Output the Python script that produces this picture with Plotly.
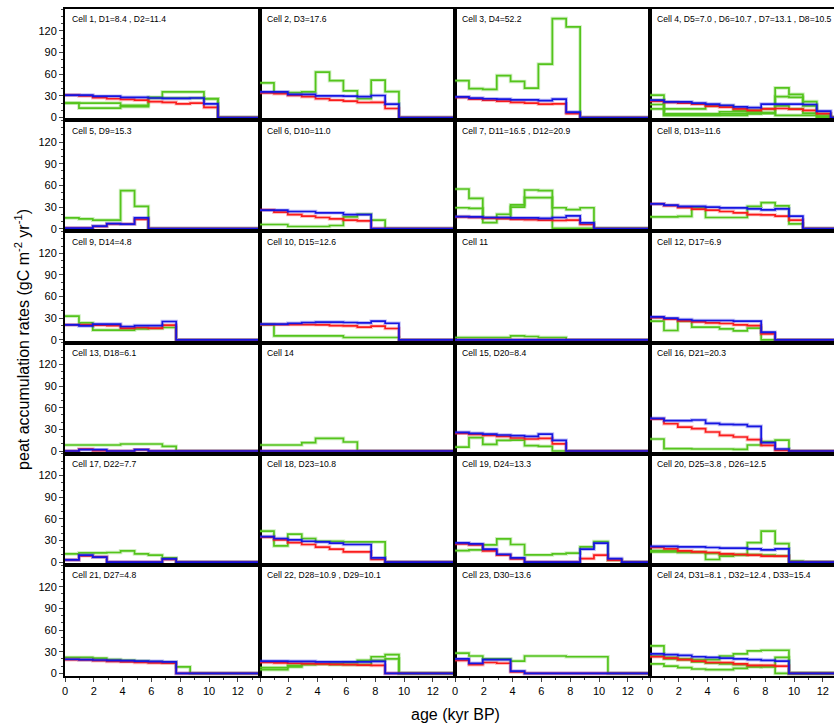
import plotly.graph_objects as go

# ---------------- data ----------------
# step edges of the age bins (kyr BP)
age_edges = [0.0, 0.97, 1.93, 2.9, 3.86, 4.83, 5.79, 6.76, 7.72, 8.69,
             9.65, 10.62, 11.58, 12.55, 13.51, 14.48]
x_ticks = [0, 2, 4, 6, 8, 10, 12]
y_ticks = [0, 30, 60, 90, 120]

cell_titles = [
    "Cell 1, D1=8.4 , D2=11.4", "Cell 2, D3=17.6", "Cell 3, D4=52.2",
    "Cell 4, D5=7.0 , D6=10.7 , D7=13.1 , D8=10.5",
    "Cell 5, D9=15.3", "Cell 6, D10=11.0", "Cell 7, D11=16.5 , D12=20.9", "Cell 8, D13=11.6",
    "Cell 9, D14=4.8", "Cell 10, D15=12.6", "Cell 11", "Cell 12, D17=6.9",
    "Cell 13, D18=6.1", "Cell 14", "Cell 15, D20=8.4", "Cell 16, D21=20.3",
    "Cell 17, D22=7.7", "Cell 18, D23=10.8", "Cell 19, D24=13.3", "Cell 20, D25=3.8 , D26=12.5",
    "Cell 21, D27=4.8", "Cell 22, D28=10.9 , D29=10.1", "Cell 23, D30=13.6",
    "Cell 24, D31=8.1 , D32=12.4 , D33=15.4",
]

c1_red = [31, 30, 27.5, 26, 25, 24, 22, 21, 19, 20, 14]
c1_blue = [31, 31, 29.5, 29.5, 28, 28, 27, 26.5, 26.5, 27, 19]
c1_green = [[20, 13, 13, 13, 15, 15, 28, 35.5, 35.5, 35.5, 26],
            [20, 20, 20, 20, 17, 17, 27, 27, 27, 27, 26]]

c2_red = [34, 33, 30.5, 29, 26, 24, 22.6, 20.8, 21, 12.5]
c2_blue = [35.5, 35.5, 32, 32, 30, 30, 29.5, 29, 30.5, 18.5]
c2_green = [[48, 34.6, 34.6, 35.5, 63, 51, 37, 26, 51.7, 36]]

c3_red = [27.7, 25.4, 24, 22.6, 21, 20, 18.5, 19, 5.5]
c3_blue = [28.6, 26.8, 26, 25.5, 24.5, 24.5, 23.5, 25.4, 7.4]
c3_green = [[51, 40, 39, 58, 50, 40.6, 74, 137, 125.5]]

c4_red = [22.6, 21, 20, 18.5, 15.7, 14.3, 12, 10, 12, 12.5, 11.5, 10, 5.5]
c4_blue = [24, 21.7, 21.7, 20, 18.5, 17, 14.8, 13.8, 18.5, 18.5, 18.5, 18, 8.8]
c4_green = [[31, 12, 12, 12, 16, 16, 10, 10, 12, 41, 32, 16, 5],
            [24, 5, 5, 5, 5, 5, 5, 5, 6, 29, 28, 22, 2],
            [18, 4, 4, 4, 4, 8, 8, 8, 6, 16, 12, 6, 1],
            [12, 3, 3, 3, 3, 3, 3, 6, 6, 3, 3, 3, 1]]

c5_red = [0.7, 0.7, 3, 6.5, 6.5, 13]
c5_blue = [0.7, 0.7, 3.5, 7, 6.2, 15]
c5_green = [[15, 13.6, 11.8, 11.8, 52.8, 31]]

c6_red = [26, 22.8, 19.6, 17.3, 15.5, 13.6, 11.8, 10.8]
c6_blue = [25.6, 25.6, 23.8, 23.8, 22, 22, 19.6, 19.6]
c6_green = [[5.8, 5.8, 3, 3, 3, 4.4, 16.4, 20, 11.8]]

c7_red = [16.4, 15.5, 14.5, 14, 13, 12.5, 11.8, 11.3, 11.8, 5.8]
c7_blue = [16.8, 16.4, 15.5, 15.5, 15, 15, 14.3, 15.5, 17.8, 8]
c7_green = [[55, 42, 8.5, 20, 33, 53.6, 52.7, 29, 26.5, 29],
            [29, 28, 15, 15, 30, 43, 43, 0.5, 0.5, 0.5]]

c8_red = [34.4, 32, 29.3, 27, 25.6, 23.8, 22, 19.6, 19, 17.3, 11.8]
c8_blue = [34.4, 32.5, 31, 31, 30, 28.8, 28.8, 27.5, 26, 27.5, 17.3]
c8_green = [[16.4, 16.4, 17, 29, 15.5, 15.5, 15.5, 31, 36, 31.6, 6.7]]

c9_red = [20.8, 20.8, 20.3, 19.8, 16.2, 17.1, 16.2, 20.3]
c9_blue = [20.8, 19.4, 21.7, 21.7, 18.5, 19.8, 19.8, 25.4]
c9_green = [[32.8, 23.5, 13.4, 13.4, 13.4, 15.2, 15.7, 17.1]]

c10_red = [21.2, 21.2, 21.2, 21.2, 20.8, 19.8, 19.4, 17.5, 18.9, 15.7]
c10_blue = [21.7, 21.7, 23, 24, 24.5, 24.5, 24, 23.5, 25.8, 23]
c10_green = [[21.2, 5.5, 5.5, 5.5, 5.5, 5.5, 3.2, 3.2, 3.2, 3.2]]

c11_red = []
c11_blue = []
c11_green = [[3.2, 3.2, 3.2, 3.2, 5.5, 4.6, 3.2, 3.2]]

c12_red = [30.9, 28.6, 26.3, 24.9, 23.5, 22.6, 20.8, 19.8, 8.3]
c12_blue = [31.8, 30, 28.2, 26.8, 26.8, 26.8, 25.8, 25.8, 10.6]
c12_green = [[25.8, 12.9, 25.8, 17.5, 17.5, 15.2, 12.5, 16.2]]

c13_red = [0, 2.8, 0.5, 0, 0, 1.8]
c13_blue = [0, 1.8, 1.8, 0, 0, 1.8]
c13_green = [[8.3, 8.3, 8.3, 8.3, 9.7, 9.7, 9.7, 6.5]]

c14_red = []
c14_blue = []
c14_green = [[8.3, 8.3, 8.3, 11.5, 17.5, 17.5, 12.5]]

c15_red = [24.5, 23, 21.7, 20.3, 18, 16.6, 17.5, 10]
c15_blue = [25.8, 24.5, 23.5, 22.2, 21.2, 20.3, 23.5, 14.8]
c15_green = [[5.5, 18.5, 9.2, 14.8, 15.2, 7.4, 6.5]]

c16_red = [44.3, 37.8, 33.2, 30.9, 26.3, 21.7, 19.4, 15.7, 7.8, 1]
c16_blue = [45.2, 42, 42, 43, 38.3, 36.9, 36.5, 34.2, 11.5, 2.8]
c16_green = [[16.6, 3.2, 3.2, 2.8, 2.8, 2.8, 2.3, 8.3, 13, 15.2]]

c17_red = [3.2, 8.8, 7.4, 0, 0, 0, 0, 3.7]
c17_blue = [3.2, 9.7, 7, 0, 0, 0, 0, 4.6]
c17_green = [[11.5, 12.9, 12.9, 13.4, 15.7, 11.5, 9.7, 6]]

c18_red = [34.6, 31, 27.2, 24.5, 20.8, 18, 14.3, 14.3, 3.7]
c18_blue = [35.5, 32.8, 31, 29, 28, 26.3, 24.5, 24.5, 6]
c18_green = [[43, 22.6, 38.8, 32.8, 29, 29, 28, 28, 28]]

c19_red = [25.4, 24, 15.7, 9.7, 4.6, 0, 0, 0, 0, 5, 9.7, 2.8]
c19_blue = [26.8, 25.4, 18, 11, 6, 0, 0, 0, 0, 18, 26.3, 5]
c19_green = [[16, 17, 24, 32.3, 24.5, 10, 10, 11.5, 12.5, 21.2, 28.6, 2.8]]

c20_red = [20.3, 18.5, 15.7, 14.3, 13.4, 11.5, 10.6, 9.7, 8.3, 8.3]
c20_blue = [22, 22, 21.2, 21.2, 20.3, 19.4, 19.4, 18.5, 17, 18.5]
c20_green = [[16, 16, 14.3, 14.3, 3.7, 8.3, 9.7, 27, 43, 25.8, 1.5],
             [14.3, 14.3, 13.4, 13.4, 12, 10.6, 10.6, 10.6, 9.7, 8.8]]

c21_red = [19, 18.5, 17.5, 16.5, 16, 15, 14.5, 14]
c21_blue = [19.5, 19, 18.5, 18, 17.5, 17, 16.5, 16]
c21_green = [[22, 22, 21, 19, 18, 17, 16, 15, 9]]

c22_red = [15, 14.5, 14, 13.5, 13, 12.5, 12, 11.5, 11]
c22_blue = [17, 17, 16.5, 16.5, 16, 16, 16, 16, 16.5]
c22_green = [[8, 8, 11, 13, 13, 14, 15, 18, 23, 26],
             [5, 5, 9, 12, 13, 12, 12, 12, 18, 20]]

c23_red = [18, 12, 15, 14, 2]
c23_blue = [20, 14, 19, 19, 3]
c23_green = [[28, 24, 20, 20, 17, 24, 24, 24, 23, 23, 23]]

c24_red = [23, 21, 19, 17, 15, 15, 13, 11, 11, 10]
c24_blue = [27, 26, 25, 23, 22, 21, 20, 19, 18, 17]
c24_green = [[38, 22, 20, 16, 14, 13, 12, 10, 9, 0],
             [24, 20, 19, 19, 19, 24, 27, 31, 32, 32],
             [13, 10, 8, 6, 5, 5, 7, 9, 10, 22]]

cells_red = [c1_red, c2_red, c3_red, c4_red, c5_red, c6_red, c7_red, c8_red,
             c9_red, c10_red, c11_red, c12_red, c13_red, c14_red, c15_red, c16_red,
             c17_red, c18_red, c19_red, c20_red, c21_red, c22_red, c23_red, c24_red]
cells_blue = [c1_blue, c2_blue, c3_blue, c4_blue, c5_blue, c6_blue, c7_blue, c8_blue,
              c9_blue, c10_blue, c11_blue, c12_blue, c13_blue, c14_blue, c15_blue, c16_blue,
              c17_blue, c18_blue, c19_blue, c20_blue, c21_blue, c22_blue, c23_blue, c24_blue]
cells_green = [c1_green, c2_green, c3_green, c4_green, c5_green, c6_green, c7_green, c8_green,
               c9_green, c10_green, c11_green, c12_green, c13_green, c14_green, c15_green, c16_green,
               c17_green, c18_green, c19_green, c20_green, c21_green, c22_green, c23_green, c24_green]

# ---------------- layout geometry ----------------
W, H = 834, 724
ML, MR, MT, MB = 65, 0, 8.7, 47.5
col_px = [195, 195, 195, 184]
px_per_kyr = 14.4
n_rows, n_cols = 6, 4
plot_w = W - ML - MR
FONT = "Liberation Sans, Arial, Helvetica, sans-serif"

GREEN = "rgb(84,196,28)"
RED = "rgb(250,28,28)"
BLUE = "rgb(22,22,225)"
HALO = {GREEN: "rgba(84,196,28,0.28)", RED: "rgba(250,28,28,0.28)", BLUE: "rgba(22,22,225,0.28)"}

nb = len(age_edges) - 1


def step_y(vals):
    v = list(vals) + [0] * (nb - len(vals))
    return v + [v[-1]]


fig = go.Figure()
annotations = []
for idx in range(24):
    r, c = divmod(idx, n_cols)
    i = idx + 1
    xa = "x" if i == 1 else f"x{i}"
    ya = "y" if i == 1 else f"y{i}"
    lines = [(g, GREEN) for g in cells_green[idx]] + [(cells_red[idx], RED), (cells_blue[idx], BLUE)]
    for vals, col in lines:
        yv = step_y(vals)
        fig.add_trace(go.Scatter(x=age_edges, y=yv, mode="lines", line=dict(color=HALO[col], width=3.6, shape="hv"),
                                 xaxis=xa, yaxis=ya, showlegend=False, hoverinfo="skip"))
        fig.add_trace(go.Scatter(x=age_edges, y=yv, mode="lines", line=dict(color=col, width=1.7, shape="hv"),
                                 xaxis=xa, yaxis=ya, showlegend=False))
    x0 = sum(col_px[:c]) / plot_w
    x1 = sum(col_px[:c + 1]) / plot_w
    y1 = 1 - r / n_rows
    y0 = 1 - (r + 1) / n_rows
    bottom = r == n_rows - 1
    left = c == 0
    xkey = "xaxis" if i == 1 else f"xaxis{i}"
    ykey = "yaxis" if i == 1 else f"yaxis{i}"
    fig.layout[xkey] = dict(
        domain=[x0, min(x1, 1)], anchor=ya, range=[0, col_px[c] / px_per_kyr],
        showline=True, linewidth=2, linecolor="black", mirror=True,
        showgrid=False, zeroline=False, tickvals=x_ticks,
        showticklabels=bottom, ticks="outside" if bottom else "", ticklen=4, tickwidth=1,
        minor=dict(dtick=1, ticks="outside" if bottom else "", ticklen=2, tickwidth=1, showgrid=False),
        tickfont=dict(size=11, family=FONT, color="black"), fixedrange=True, automargin=False,
    )
    fig.layout[ykey] = dict(
        domain=[y0, y1], anchor=xa, range=[-3.7, 150.4],
        showline=True, linewidth=2, linecolor="black", mirror=(c != n_cols - 1),
        showgrid=False, zeroline=False, tickvals=y_ticks,
        showticklabels=left, ticks="outside" if left else "", ticklen=4, tickwidth=1,
        minor=dict(dtick=10, ticks="outside" if left else "", ticklen=2, tickwidth=1, showgrid=False),
        tickfont=dict(size=11, family=FONT, color="black"), fixedrange=True, automargin=False,
    )
    annotations.append(dict(text=cell_titles[idx], xref=f"{xa} domain", yref=f"{ya} domain",
                            x=5 / col_px[c], y=1 - 10.5 / 111.3, xanchor="left", yanchor="middle",
                            showarrow=False, font=dict(size=8.6, family=FONT, color="black")))

annotations.append(dict(text="peat accumulation rates (gC m<sup>-2</sup> yr<sup>-1</sup>)",
                        xref="paper", yref="paper", x=(22 - ML) / plot_w, y=1 - (340 - MT) / (H - MT - MB),
                        textangle=-90, showarrow=False, xanchor="center", yanchor="middle",
                        font=dict(size=16, family=FONT, color="black")))
annotations.append(dict(text="age (kyr BP)", xref="paper", yref="paper",
                        x=(455 - ML) / plot_w, y=(H - MB - 715) / (H - MT - MB),
                        showarrow=False, xanchor="center", yanchor="middle",
                        font=dict(size=16, family=FONT, color="black")))

fig.update_layout(width=W, height=H, margin=dict(l=ML, r=MR, t=MT, b=MB, pad=0),
                  paper_bgcolor="white", plot_bgcolor="white", annotations=annotations,
                  showlegend=False)
fig.write_html("out.html", config={"displayModeBar": False},
               post_script="document.body.style.margin='0';document.body.style.overflow='hidden';")
